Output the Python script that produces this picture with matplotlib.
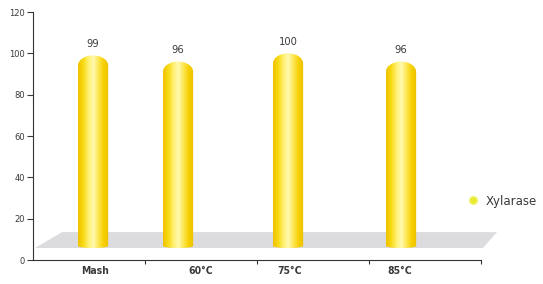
import numpy as np
import matplotlib
matplotlib.use("Agg")
import matplotlib.pyplot as plt
from matplotlib.path import Path
from matplotlib.patches import PathPatch, Polygon
from matplotlib.colors import LinearSegmentedColormap
from matplotlib.lines import Line2D

# data
categories = ["Mash", "60°C", "75°C", "85°C"]
values = [99, 96, 100, 96]
series_name = "Xylarase"

# layout (category units, bars sit slightly off-centre as in the 3D original)
bar_pos = [0.036, 0.795, 1.777, 2.786]
label_pos = [0.05, 1.0, 1.79, 2.77]
bar_w = 0.27
floor_y0, floor_y1 = 5.8, 13.5
cap_h = 5.0

txt = "#3a3a3a"
plt.rcParams["font.family"] = ["DejaVu Sans"]

fig = plt.figure(figsize=(5.43, 2.84), dpi=100)
ax = fig.add_axes([33 / 543, 24 / 284, 448 / 543, 248 / 284])
ax.set_xlim(-0.5, 3.5)
ax.set_ylim(0, 120)

# grey 3D floor
floor = Polygon([(-0.482, floor_y0), (-0.241, floor_y1), (3.643, floor_y1), (3.518, floor_y0)],
                closed=True, facecolor="#dcdcdf", edgecolor="none", clip_on=False, zorder=1)
ax.add_patch(floor)

cmap = LinearSegmentedColormap.from_list(
    "cyl", ["#f0c000", "#f8da10", "#fff070", "#fff9b0", "#fde650", "#f6d000", "#eebf00"])
grad = np.linspace(0, 1, 256).reshape(1, -1)

for x, v in zip(bar_pos, values):
    x0, x1 = x - bar_w / 2, x + bar_w / 2
    t = np.linspace(np.pi, 0, 40)
    arc_x = x + (bar_w / 2) * np.cos(t)
    arc_y = (v - cap_h) + cap_h * np.sin(t)
    bt = np.linspace(0, -np.pi, 20)
    base_x = x + (bar_w / 2) * np.cos(bt)
    base_y = floor_y0 + 1.0 + 1.0 * np.sin(bt)
    verts = [(x1, floor_y0 + 1.0)] + list(zip(base_x, base_y))[1:] + [(x0, v - cap_h)] + list(zip(arc_x, arc_y))
    verts.append(verts[0])
    codes = [Path.MOVETO] + [Path.LINETO] * (len(verts) - 2) + [Path.CLOSEPOLY]
    patch = PathPatch(Path(verts, codes), facecolor="none", edgecolor="none", zorder=2)
    ax.add_patch(patch)
    im = ax.imshow(grad, cmap=cmap, extent=[x0, x1, floor_y0 - 1, v], aspect="auto",
                   origin="lower", zorder=2, interpolation="bilinear")
    im.set_clip_path(patch)
    ax.text(x, v + 5.5, str(v), ha="center", va="center", fontsize=8,
            fontstretch="condensed", fontweight="medium", color=txt)

ax.set_xlim(-0.5, 3.5)
ax.set_ylim(0, 120)

for s in ["top", "right"]:
    ax.spines[s].set_visible(False)
for s in ["left", "bottom"]:
    ax.spines[s].set_color("#333333")
    ax.spines[s].set_linewidth(0.8)

ax.set_yticks(np.arange(0, 121, 20))
ax.tick_params(axis="y", labelsize=6, colors=txt, length=4, width=0.8, pad=2)
ax.set_xticks([0.5, 1.5, 2.5, 3.5])
ax.set_xticklabels([])
ax.tick_params(axis="x", length=3, width=0.8, colors="#333333")
for p, c in zip(label_pos, categories):
    ax.text(p, -3, c, ha="center", va="top", fontsize=7.5, color=txt, fontweight="semibold",
            fontstretch="condensed", clip_on=False)

handle = Line2D([], [], marker="o", linestyle="none", markersize=5.5,
                markerfacecolor="#e8ea30", markeredgecolor="#f2f26a")
fig.legend([handle], [series_name], loc="center left", bbox_to_anchor=(467 / 543, 1 - 201 / 284),
           frameon=False, fontsize=8.5, handletextpad=0.6, handlelength=1.0, borderaxespad=0,
           borderpad=0, labelcolor=txt)

fig.savefig("out.png", dpi=100)
